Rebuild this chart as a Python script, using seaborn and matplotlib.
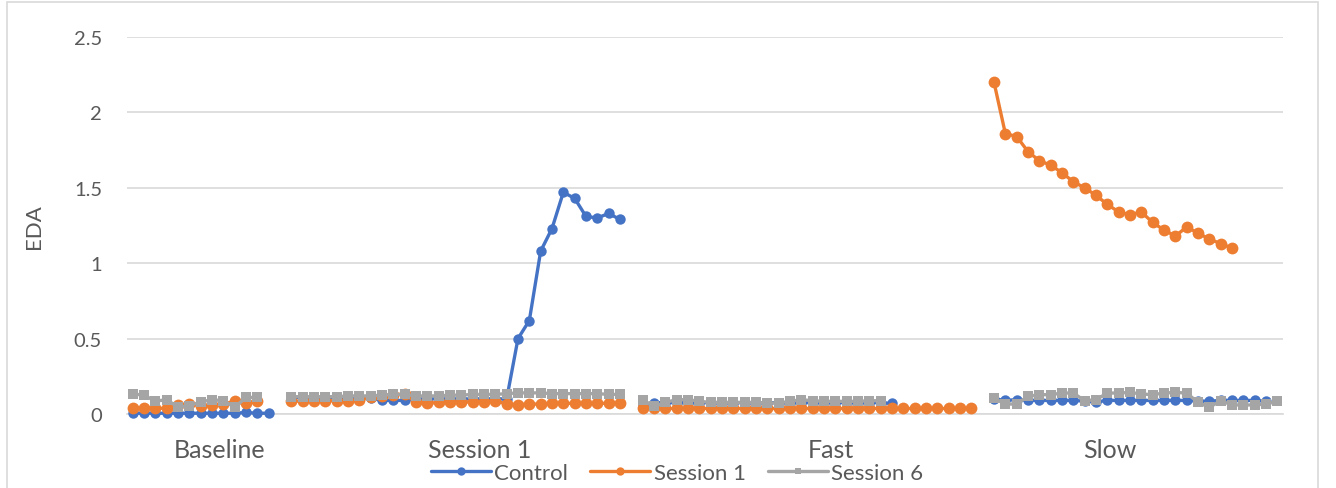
import numpy as np
import pandas as pd
import matplotlib
matplotlib.use("Agg")
import matplotlib.pyplot as plt
import seaborn as sns
from matplotlib.patches import Rectangle
from matplotlib.lines import Line2D

# ---------------- data ----------------
groups = ["Baseline", "Session 1", "Fast", "Slow"]
series_names = ["Control", "Session 1", "Session 6"]

control_baseline = [0.005, 0.005, 0.005, 0.005, 0.005, 0.005, 0.005, 0.005, 0.005, 0.005, 0.01, 0.005, 0.005]
session1_baseline = [0.04, 0.04, 0.038, 0.038, 0.06, 0.065, 0.055, 0.06, 0.065, 0.085, 0.075, 0.085]
session6_baseline = [0.133, 0.125, 0.085, 0.095, 0.045, 0.055, 0.08, 0.095, 0.088, 0.045, 0.11, 0.11]

control_session1 = [0.11, 0.11, 0.11, 0.11, 0.11, 0.11, 0.11, 0.105, 0.09, 0.09, 0.09, 0.1, 0.1,
                    0.1, 0.1, 0.1, 0.1, 0.1, 0.1, 0.1, 0.50, 0.62, 1.08, 1.23, 1.47, 1.43, 1.31,
                    1.30, 1.33, 1.29]
session1_session1 = [0.088, 0.084, 0.088, 0.088, 0.088, 0.088, 0.093, 0.11, 0.12, 0.126, 0.133,
                     0.077, 0.071, 0.077, 0.077, 0.077, 0.082, 0.082, 0.088, 0.066, 0.062, 0.066,
                     0.066, 0.071, 0.071, 0.071, 0.071, 0.071, 0.071, 0.071]
session6_session1 = [0.115, 0.115, 0.115, 0.115, 0.115, 0.12, 0.12, 0.12, 0.125, 0.13, 0.13, 0.12,
                     0.12, 0.12, 0.125, 0.125, 0.13, 0.13, 0.13, 0.135, 0.14, 0.14, 0.14, 0.135,
                     0.135, 0.135, 0.135, 0.135, 0.13, 0.13]

control_fast = [0.06, 0.075, 0.075, 0.075, 0.075, 0.075, 0.075, 0.075, 0.075, 0.075, 0.075, 0.075,
                0.075, 0.075, 0.075, 0.075, 0.075, 0.075, 0.075, 0.075, 0.075, 0.075, 0.07]
session1_fast = [0.04, 0.04, 0.04, 0.04, 0.04, 0.04, 0.04, 0.04, 0.04, 0.04, 0.04, 0.04, 0.04, 0.04,
                 0.04, 0.04, 0.04, 0.04, 0.04, 0.04, 0.04, 0.04, 0.04, 0.04, 0.04, 0.04, 0.04, 0.04,
                 0.04, 0.04]
session6_fast = [0.095, 0.05, 0.077, 0.095, 0.095, 0.084, 0.077, 0.077, 0.077, 0.077, 0.077, 0.073,
                 0.073, 0.084, 0.095, 0.088, 0.084, 0.084, 0.084, 0.084, 0.088, 0.088]

control_slow = [0.1, 0.09, 0.095, 0.09, 0.09, 0.09, 0.09, 0.09, 0.085, 0.08, 0.09, 0.09, 0.09, 0.09,
                0.09, 0.09, 0.09, 0.09, 0.085, 0.085, 0.09, 0.09, 0.09, 0.09, 0.085]
session1_slow = [2.20, 1.86, 1.84, 1.74, 1.68, 1.65, 1.60, 1.54, 1.50, 1.45, 1.39, 1.34, 1.32, 1.34,
                 1.27, 1.22, 1.18, 1.24, 1.20, 1.16, 1.13, 1.10]
session6_slow = [0.104, 0.066, 0.066, 0.117, 0.128, 0.128, 0.139, 0.139, 0.088, 0.095, 0.139, 0.139,
                 0.143, 0.133, 0.128, 0.139, 0.143, 0.139, 0.077, 0.044, 0.088, 0.06, 0.06, 0.06,
                 0.066, 0.084]

# number of category slots per group on the category axis (one empty slot between groups)
group_slots = [13, 30, 30, 26]
group_labels = ["Baseline", "Session 1", "Fast", "Slow"]
label_pos = [7.67, 30.6, 61.6, 86.2]

values = {
    "Control": [control_baseline, control_session1, control_fast, control_slow],
    "Session 1": [session1_baseline, session1_session1, session1_fast, session1_slow],
    "Session 6": [session6_baseline, session6_session1, session6_fast, session6_slow],
}

rows = []
for s in series_names:
    start = 0
    for g, vals, n in zip(groups, values[s], group_slots):
        for i, v in enumerate(vals):
            rows.append({"series": s, "group": g, "x": start + i, "EDA": v})
        start += n + 1
df = pd.DataFrame(rows)

# ---------------- plot ----------------
sns.set_theme(style="white")
plt.rcParams["font.family"] = ["Lato", "DejaVu Sans"]

W, H = 1336, 489
fig = plt.figure(figsize=(W / 100, H / 100), dpi=100)
ax = fig.add_axes([127 / W, 1 - 415 / H, (1283 - 127) / W, (415 - 38) / H])

palette = {"Control": "#4472C4", "Session 1": "#ED7D31", "Session 6": "#A5A5A5"}
marker_of = {"Control": "o", "Session 1": "o", "Session 6": "s"}
msize = {"Control": 7.5, "Session 1": 8.5, "Session 6": 6.5}

for s in series_names:
    sub = df[df["series"] == s]
    sns.lineplot(data=sub, x="x", y="EDA", units="group", estimator=None, sort=False,
                 color=palette[s], marker=marker_of[s], linewidth=2.4,
                 markersize=msize[s], markeredgewidth=0, ax=ax, legend=False, clip_on=False)

ax.set_xlim(-0.5, sum(group_slots) + len(group_slots) - 1 - 0.5)
ax.set_ylim(0, 2.5)
ax.set_yticks([0, 0.5, 1, 1.5, 2, 2.5])
ax.set_yticklabels(["0", "0.5", "1", "1.5", "2", "2.5"])
ax.set_xticks(label_pos)
ax.set_xticklabels(group_labels)
ax.tick_params(axis="y", length=0, pad=18, labelsize=14.5, labelcolor="#595959")
ax.tick_params(axis="x", length=0, pad=17, labelsize=18, labelcolor="#595959")
ax.grid(axis="y", color="#D9D9D9", linewidth=1.2)
ax.set_axisbelow(True)
for sp in ["left", "right", "top"]:
    ax.spines[sp].set_visible(False)
ax.spines["bottom"].set_color("#D9D9D9")
ax.spines["bottom"].set_linewidth(1.2)
ax.spines["bottom"].set_zorder(0.5)
ax.set_xlabel("")
ax.set_ylabel("EDA", fontsize=16, color="#595959")
ax.yaxis.set_label_coords(-0.072, 0.5)

handles = [Line2D([], [], color=palette[s], marker=marker_of[s], linewidth=2.4,
                  markersize=(6 if marker_of[s] == "o" else 5), markeredgewidth=0)
           for s in series_names]
ax.legend(handles, series_names, loc="center",
          bbox_to_anchor=((677 - 127) / (1283 - 127), (415 - 474) / (415 - 38)),
          ncol=3, frameon=False, fontsize=16, handlelength=2.7, handletextpad=0.15,
          columnspacing=1.0, labelcolor="#595959")

fig.patches.append(Rectangle((7 / W, -0.05), (1318 - 7) / W, 1.05 - 3 / H, transform=fig.transFigure,
                             fill=False, edgecolor="#D9D9D9", linewidth=1.2))

fig.savefig("out.png", dpi=100)
